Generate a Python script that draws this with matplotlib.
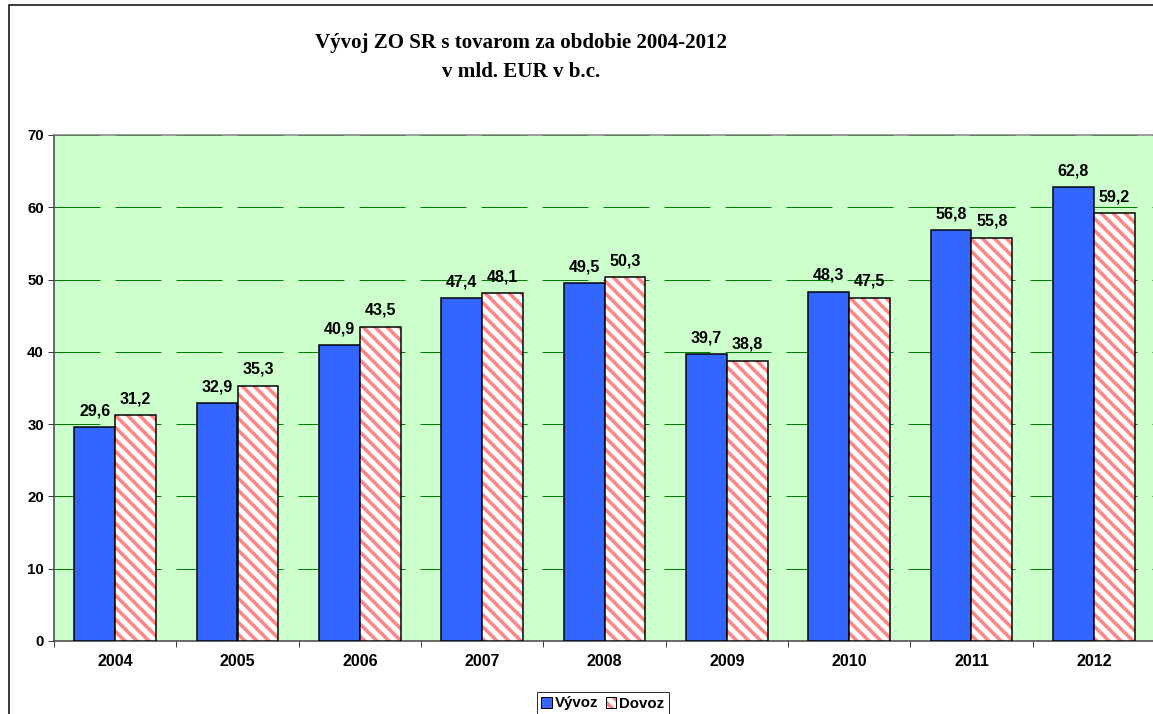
import numpy as np
import matplotlib
matplotlib.use("Agg")
import matplotlib.pyplot as plt
from matplotlib.patches import Patch, Rectangle
from matplotlib.ticker import FixedLocator, MultipleLocator

# data
years = ["2004", "2005", "2006", "2007", "2008", "2009", "2010", "2011", "2012"]
vyvoz = [29.6, 32.9, 40.9, 47.4, 49.5, 39.7, 48.3, 56.8, 62.8]
dovoz = [31.2, 35.3, 43.5, 48.1, 50.3, 38.8, 47.5, 55.8, 59.2]
series_names = ["Vývoz", "Dovoz"]
title_lines = ["Vývoj ZO SR s tovarom za obdobie 2004-2012", "v mld. EUR v b.c."]

BLUE = "#3366FF"
STRIPE = "#FF8585"
BG = "#CCFFCC"
GRID = "#008000"

DPI = 72  # 1 pt == 1 px
plt.rcParams["font.family"] = ["Liberation Sans", "DejaVu Sans"]
plt.rcParams["hatch.linewidth"] = 3.5

fig = plt.figure(figsize=(1153 / DPI, 714 / DPI), dpi=DPI)
W, H = 1153.0, 714.0

# outer chart border (runs off the right and bottom of the image)
fig.patches.append(Rectangle((8.5 / W, -0.2), 1.5, 1.2 - 4.5 / H, transform=fig.transFigure,
                             fill=False, edgecolor="black", linewidth=1.5, zorder=0))

ax = fig.add_axes([54 / W, 1 - 641 / H, 1101 / W, (641 - 135) / H])
ax.set_facecolor(BG)

x = np.arange(len(years))
width = 0.335

ax.bar(x - width / 2, vyvoz, width, color=BLUE, edgecolor="black", linewidth=1.5, zorder=3)
ax.bar(x + width / 2, dovoz, width, color="white", edgecolor=STRIPE, hatch="\\\\",
       linewidth=0, zorder=3)
ax.bar(x + width / 2, dovoz, width, color="none", edgecolor="black", linewidth=1.5, zorder=4)

for xi, v in zip(x - width / 2, vyvoz):
    ax.annotate(f"{v:.1f}".replace(".", ","), (xi, v), xytext=(0, 12), textcoords="offset points",
                ha="center", va="baseline", fontsize=16, fontweight="bold")
for xi, v in zip(x + width / 2, dovoz):
    ax.annotate(f"{v:.1f}".replace(".", ","), (xi, v), xytext=(0, 12), textcoords="offset points",
                ha="center", va="baseline", fontsize=16, fontweight="bold")

ax.set_xlim(-0.5, len(years) - 0.5)
ax.set_ylim(0, 70)
ax.yaxis.set_major_locator(MultipleLocator(10))
ax.set_xticks(x)
ax.set_xticklabels(years, fontsize=16, fontweight="bold")
ax.xaxis.set_minor_locator(FixedLocator(np.arange(-0.5, len(years), 1.0)))
ax.tick_params(axis="x", which="major", length=0, pad=13)
ax.tick_params(axis="x", which="minor", length=6, width=1, color="#404040")
ax.tick_params(axis="y", length=6, width=1, color="#404040", pad=4, labelsize=15)
for lab in ax.get_yticklabels():
    lab.set_fontweight("bold")

ax.yaxis.grid(True, color=GRID, linestyle=(0, (46, 15)), linewidth=1)
ax.set_axisbelow(True)

ax.spines["left"].set_color("#404040")
ax.spines["left"].set_linewidth(1.5)
ax.spines["bottom"].set_color("#404040")
ax.spines["bottom"].set_linewidth(1.5)
ax.spines["top"].set_color("#808080")
ax.spines["top"].set_linewidth(1.5)
ax.spines["right"].set_visible(False)

fig.text(521 / W, 1 - 43 / H, title_lines[0], ha="center", va="center",
         fontsize=21, fontweight="bold", family=["Liberation Serif", "DejaVu Serif"])
fig.text(521 / W, 1 - 72 / H, title_lines[1], ha="center", va="center",
         fontsize=21, fontweight="bold", family=["Liberation Serif", "DejaVu Serif"])

h1 = Patch(facecolor=BLUE, edgecolor="black", linewidth=1)
h2a = Patch(facecolor="white", edgecolor=STRIPE, hatch="\\\\", linewidth=0)
h2b = Patch(facecolor="none", edgecolor="black", linewidth=1)
leg = fig.legend([h1, (h2a, h2b)], series_names, loc="upper center",
                 bbox_to_anchor=(603 / W, 1 - 692 / H), ncol=2, frameon=True, fancybox=False,
                 prop={"size": 15, "weight": "bold"}, handlelength=0.7, handleheight=0.7,
                 handletextpad=0.2, columnspacing=0.5, borderpad=0.3, borderaxespad=0)
leg.get_frame().set_edgecolor("black")
leg.get_frame().set_linewidth(1)

fig.savefig("out.png", dpi=DPI)
